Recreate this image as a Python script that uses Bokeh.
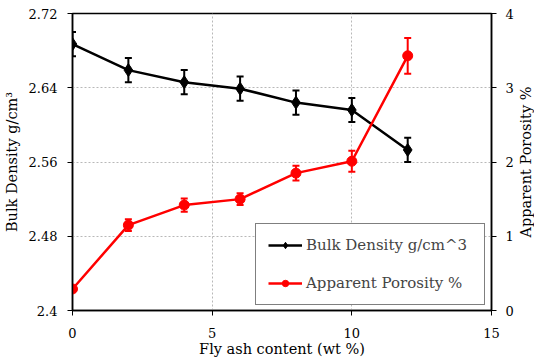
import math
from bokeh.plotting import figure
from bokeh.models import (Range1d, LinearAxis, FixedTicker, Whisker, TeeHead, Label,
                          ColumnDataSource, CustomJSTickFormatter, Legend, LegendItem)
from bokeh.embed import file_html
from bokeh.resources import INLINE

# data
fly_ash = [0, 2, 4, 6, 8, 10, 12]
bulk_density = [2.687, 2.659, 2.646, 2.639, 2.624, 2.616, 2.573]
bulk_err = [0.013, 0.013, 0.013, 0.013, 0.013, 0.013, 0.013]
porosity = [0.29, 1.15, 1.42, 1.50, 1.85, 2.01, 3.43]
poro_err = [0.0, 0.08, 0.09, 0.08, 0.10, 0.14, 0.24]
x_ticks = [0, 5, 10, 15]
y_ticks = [2.4, 2.48, 2.56, 2.64, 2.72]
y2_ticks = [0, 1, 2, 3, 4]

FONT = "DejaVu Serif"
FW, FH = 419, 297

p = figure(output_backend="svg", toolbar_location=None,
           frame_width=FW, frame_height=FH,
           min_border_left=72, min_border_right=43, min_border_top=13, min_border_bottom=38,
           x_range=Range1d(0, 15), y_range=Range1d(2.4, 2.72),
           x_axis_label="Fly ash content (wt %)", y_axis_label="Bulk Density g/cm³")
p.extra_y_ranges = {"poro": Range1d(0, 4)}
p.outline_line_color = "black"
p.outline_line_width = 1.5
p.background_fill_color = "white"
p.border_fill_color = "white"

right = LinearAxis(y_range_name="poro")
p.add_layout(right, "right")

fmt = CustomJSTickFormatter(code="""
let s = tick.toFixed(2);
s = s.replace(/0+$/, '').replace(/\\.$/, '');
return s;
""")

p.xaxis.ticker = FixedTicker(ticks=x_ticks)
p.yaxis[0].ticker = FixedTicker(ticks=y_ticks)
p.yaxis[0].formatter = fmt
right.ticker = FixedTicker(ticks=y2_ticks)

for ax in [p.xaxis[0], p.yaxis[0], right]:
    ax.axis_line_color = "black"
    ax.axis_line_width = 1.5
    ax.major_tick_line_color = "black"
    ax.major_tick_out = 5
    ax.major_tick_in = 0
    ax.minor_tick_line_color = None
    ax.major_label_text_font = FONT
    ax.major_label_text_font_size = "13px"
    ax.major_label_text_color = "black"
    ax.axis_label_text_font = FONT
    ax.axis_label_text_font_size = "14.5px"
    ax.axis_label_text_font_style = "normal"
    ax.axis_label_text_color = "black"

p.xaxis[0].major_label_standoff = 12
p.xaxis[0].axis_label_standoff = 0
p.yaxis[0].major_label_standoff = 10
p.yaxis[0].axis_label_standoff = 6
right.major_label_standoff = 9

right_label = Label(x=9, y=FH / 2, x_units="screen", y_units="screen",
                    text="Apparent Porosity %", angle=math.pi / 2,
                    text_align="center", text_baseline="middle",
                    text_font=FONT, text_font_size="14.5px", text_color="black")
p.add_layout(right_label, "right")

p.xgrid.ticker = FixedTicker(ticks=x_ticks)
p.ygrid.ticker = FixedTicker(ticks=y_ticks)
p.grid.grid_line_color = "#b8b8b8"
p.grid.grid_line_dash = "2 2"
p.grid.grid_line_width = 1

# bulk density
src_b = ColumnDataSource(dict(x=fly_ash, y=bulk_density,
                              lo=[v - e for v, e in zip(bulk_density, bulk_err)],
                              hi=[v + e for v, e in zip(bulk_density, bulk_err)]))
lb = p.line("x", "y", source=src_b, line_color="black", line_width=2.5)
sb = p.scatter("x", "y", source=src_b, marker="diamond", size=13,
               fill_color="black", line_color="black")
wb = Whisker(base="x", lower="lo", upper="hi", source=src_b, line_color="black", line_width=2,
             upper_head=TeeHead(size=7, line_color="black", line_width=2),
             lower_head=TeeHead(size=7, line_color="black", line_width=2))
p.add_layout(wb)

# porosity
src_p = ColumnDataSource(dict(x=fly_ash, y=porosity,
                              lo=[v - e for v, e in zip(porosity, poro_err)],
                              hi=[v + e for v, e in zip(porosity, poro_err)]))
lp = p.line("x", "y", source=src_p, y_range_name="poro", line_color="red", line_width=2.5)
sp = p.scatter("x", "y", source=src_p, y_range_name="poro", marker="circle", size=10,
               fill_color="red", line_color="red")
wp = Whisker(base="x", lower="lo", upper="hi", source=src_p, y_range_name="poro",
             line_color="red", line_width=2,
             upper_head=TeeHead(size=7, line_color="red", line_width=2),
             lower_head=TeeHead(size=7, line_color="red", line_width=2))
p.add_layout(wp)

legend = Legend(items=[LegendItem(label="Bulk Density g/cm^3", renderers=[lb, sb]),
                       LegendItem(label="Apparent Porosity %", renderers=[lp, sp])],
                location=(183, 5))
legend.border_line_color = "black"
legend.border_line_width = 1.5
legend.background_fill_alpha = 1
legend.label_text_font = FONT
legend.label_text_font_size = "15px"
legend.glyph_width = 34
legend.glyph_height = 16
legend.label_height = 16
legend.spacing = 20
legend.padding = 12
legend.margin = 0
legend.label_standoff = 4
legend.label_width = 166
p.add_layout(legend, "center")

open("out.html", "w").write(file_html(p, INLINE))
